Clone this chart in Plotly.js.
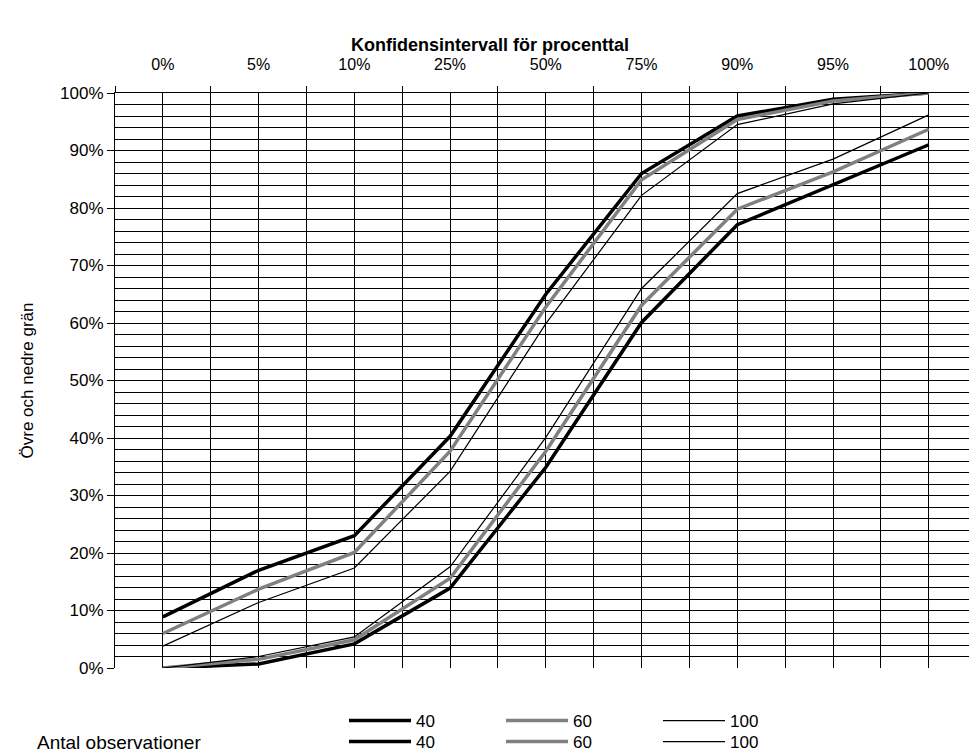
<!DOCTYPE html>
<html>
<head>
<meta charset="utf-8">
<script src="https://cdn.plot.ly/plotly-3.0.1.min.js"></script>
<style>html,body{margin:0;padding:0;background:#fff;overflow:hidden}</style>
</head>
<body>
<div id="chart" style="width:969px;height:756px"></div>
<script>
const categories = ['0%','5%','10%','25%','50%','75%','90%','95%','100%'];
const upper40  = [8.9, 17.0, 23.0, 40.3, 65.0, 86.0, 96.0, 98.9, 100];
const upper60  = [6.0, 13.7, 20.1, 37.7, 62.8, 84.9, 95.4, 98.6, 100];
const upper100 = [3.8, 11.4, 17.4, 34.2, 59.9, 82.2, 94.5, 98.1, 100];
const lower40  = [0, 0.7, 4.2, 13.9, 34.9, 60.1, 77.1, 84.0, 91.0];
const lower60  = [0, 1.5, 4.9, 15.6, 37.7, 63.1, 79.8, 86.3, 93.7];
const lower100 = [0, 2.0, 5.4, 17.6, 40.1, 66.0, 82.5, 88.5, 96.2];
const seriesNames = ['40','60','100'];

const xIdx = categories.map((c, i) => i);
const styles = [
  {color:'#000000', width:3.5},
  {color:'#808080', width:3.5},
  {color:'#000000', width:1.2}
];
const uppers = [upper40, upper60, upper100];
const lowers = [lower40, lower60, lower100];
const traces = [];
uppers.forEach((ys, k) => traces.push({x:xIdx, y:ys, type:'scatter', mode:'lines', name:seriesNames[k], line:styles[k], legend:'legend', hoverinfo:'skip'}));
lowers.forEach((ys, k) => traces.push({x:xIdx, y:ys, type:'scatter', mode:'lines', name:seriesNames[k], line:styles[k], legend:'legend2', hoverinfo:'skip'}));

const F = 'Liberation Sans, Arial, sans-serif';
const plotH = 668 - 93, plotW = 969 - 115;
function legendRow(yPx) {
  return {
    orientation:'h', x:(344 - 115) / plotW, xanchor:'left', y:-(yPx - 668) / plotH, yanchor:'middle',
    itemwidth:62, entrywidth:80, entrywidthmode:'pixels',
    font:{family:F, size:17}, bgcolor:'rgba(0,0,0,0)', borderwidth:0,
    itemclick:false, itemdoubleclick:false
  };
}
const layout = {
  width:969, height:756,
  margin:{l:115, r:0, t:93, b:88, autoexpand:false},
  paper_bgcolor:'#fff', plot_bgcolor:'#fff',
  font:{family:F, size:16, color:'#000'},
  showlegend:true,
  title:{text:'<b>Konfidensintervall för procenttal</b>', font:{family:F, size:18, color:'#000'},
         x:490/969, xanchor:'center', xref:'container', y:1-45/756, yanchor:'middle', yref:'container'},
  xaxis:{
    type:'linear', side:'top', range:[-0.5, 8.42],
    tickvals:xIdx, ticktext:categories, ticks:'', ticklabelstandoff:16,
    showgrid:true, gridcolor:'#000', gridwidth:1,
    minor:{tick0:0.5, dtick:1, ticks:'outside', ticklen:6, tickcolor:'#000', showgrid:true, gridcolor:'#000', gridwidth:1},
    showline:true, linecolor:'#000', linewidth:1, zeroline:false,
    automargin:false, fixedrange:true, tickfont:{family:F, size:16}
  },
  yaxis:{
    range:[0,100], dtick:10, tick0:0, ticksuffix:'%',
    ticks:'outside', ticklen:7, tickcolor:'#000',
    showgrid:true, gridcolor:'#000', gridwidth:1,
    minor:{dtick:2, showgrid:true, gridcolor:'#000', gridwidth:1, ticks:''},
    showline:true, linecolor:'#000', linewidth:1, zeroline:false,
    automargin:false, fixedrange:true, tickfont:{family:F, size:17},
    title:{text:'Övre och nedre grän', font:{family:F, size:17}, standoff:22}
  },
  legend:legendRow(721),
  legend2:legendRow(742),
  annotations:[{text:'Antal observationer', xref:'paper', yref:'paper', x:-(115 - 35) / plotW, y:-(742 - 668) / plotH,
    xanchor:'left', yanchor:'middle', showarrow:false, font:{family:F, size:19}}]
};
Plotly.newPlot('chart', traces, layout, {displayModeBar:false, staticPlot:true});
</script>
</body>
</html>
